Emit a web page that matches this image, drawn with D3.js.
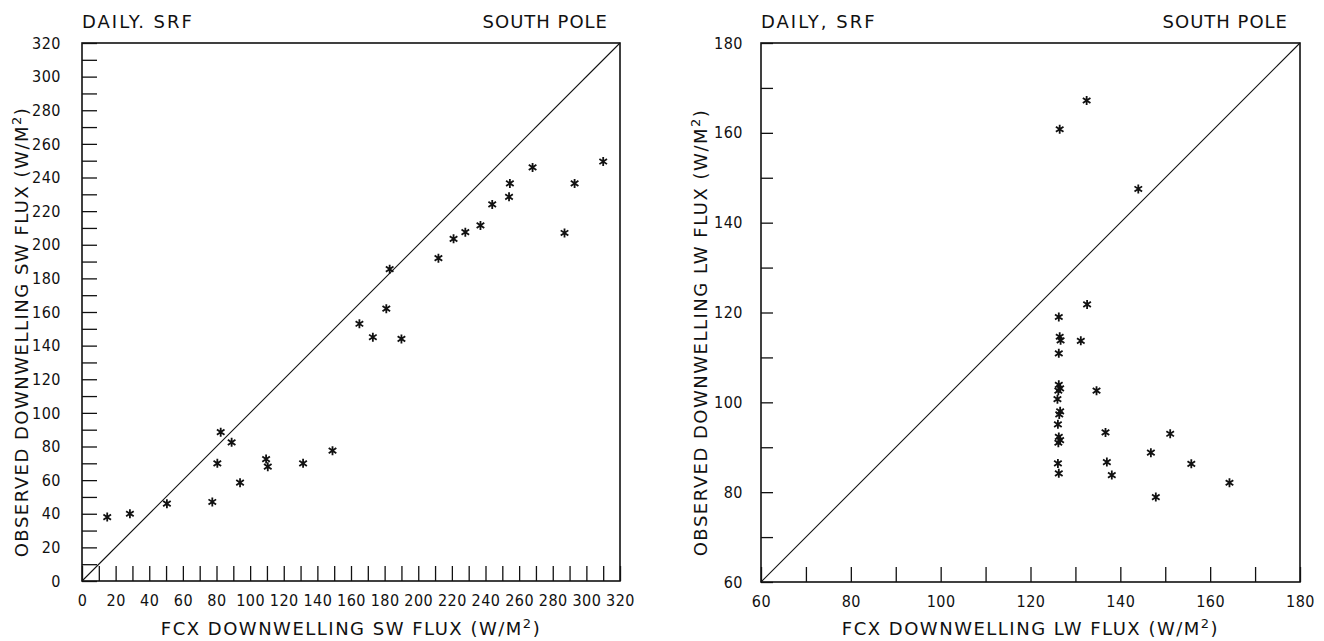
<!DOCTYPE html>
<html>
<head>
<meta charset="utf-8">
<script src="https://cdn.jsdelivr.net/npm/d3@7"></script>
<style>
  body { margin: 0; background: #fff; }
  svg { display: block; }
  text { font-family: "DejaVu Sans", sans-serif; fill: #111; }
  .tick text { font-family: "DejaVu Sans Condensed", "DejaVu Sans", sans-serif; }
  .domain { display: none; }
</style>
</head>
<body>
<div id="root"></div>
<script>
// shortwave panel (x = FCX, y = observed)
const swFcx = [15, 28.5, 50.5, 77.5, 80.5, 82.5, 89, 94, 109.5, 110.5, 131.5, 149, 165, 173, 181, 183, 190, 212, 221, 228, 237, 244, 254, 254.5, 268, 287, 293, 310];
const swObs = [38, 40, 46, 47, 70, 88.5, 82.5, 58.5, 72.5, 68, 70, 77.5, 153, 145, 162, 185.5, 144, 192, 203.5, 207.5, 211.5, 224, 228.5, 236.5, 246, 207, 236.5, 249.5];

// longwave panel
const lwFcx = [126.5, 132.5, 144, 132.6, 126.3, 126.5, 126.7, 131.2, 126.3, 126.3, 126.6, 126.2, 134.7, 126.0, 126.6, 126.4, 126.1, 126.3, 126.6, 126.2, 126.1, 126.3, 136.7, 151.1, 146.8, 137.0, 155.8, 138.1, 164.3, 147.9];
const lwObs = [160.8, 167.2, 147.5, 121.8, 119.0, 114.6, 113.8, 113.7, 110.9, 103.9, 103.1, 102.6, 102.6, 100.7, 98.0, 97.3, 95.1, 92.3, 91.6, 91.0, 86.4, 84.2, 93.3, 93.0, 88.8, 86.7, 86.3, 83.8, 82.1, 78.9];

const swTicks = d3.range(0, 321, 10);
const lwTicks = d3.range(60, 181, 10);

const W = 1324, H = 641;
const svg = d3.select("#root").append("svg")
	.attr("width", W)
	.attr("height", H);

const star = "M0,-4.5V4.5M-3.8,-2.6L3.8,2.6M-3.8,2.6L3.8,-2.6";

const drawPanel = (opts) => {
	const { left, right, top, bottom, domain, ticks, xs, ys, ytick, comma, xTitle, yTitle, yTitleX } = opts;

	const x = d3.scaleLinear().domain(domain).range([left, right]);
	const y = d3.scaleLinear().domain(domain).range([bottom, top]);
	const g = svg.append("g");
	const fmt = (d) => (d % 20 === 0 ? d : "");

	// frame
	g.append("rect")
		.attr("x", left).attr("y", top)
		.attr("width", right - left).attr("height", bottom - top)
		.attr("fill", "none").attr("stroke", "#111").attr("stroke-width", 1.6);

	const xAxis = d3.axisBottom(x).tickValues(ticks).tickFormat(fmt).tickSize(-15).tickPadding(25);
	const yAxis = d3.axisLeft(y).tickValues(ticks).tickFormat(fmt).tickSize(-ytick).tickPadding(ytick + 6);

	g.append("g")
		.attr("transform", "translate(0," + bottom + ")")
		.call(xAxis)
		.call(s => s.selectAll("line").attr("stroke", "#111").attr("stroke-width", 1.3))
		.call(s => s.selectAll("text").attr("font-size", 16).attr("dy", 0).attr("letter-spacing", 0.5));

	g.append("g")
		.attr("transform", "translate(" + left + ",0)")
		.call(yAxis)
		.call(s => s.selectAll("line").attr("stroke", "#111").attr("stroke-width", 1.3))
		.call(s => s.selectAll("text").attr("font-size", 16).attr("letter-spacing", 0.5));

	// 1:1 line
	g.append("line")
		.attr("x1", x(domain[0])).attr("y1", y(domain[0]))
		.attr("x2", x(domain[1])).attr("y2", y(domain[1]))
		.attr("stroke", "#111").attr("stroke-width", 1.1);

	g.selectAll("path.pt")
		.data(xs.map((d, i) => [d, ys[i]]))
		.enter()
		.append("path")
		.attr("class", "pt")
		.attr("d", star)
		.attr("transform", d => "translate(" + x(d[0]) + "," + y(d[1]) + ")")
		.attr("stroke", "#111")
		.attr("stroke-width", 1.8)
		.attr("fill", "none");

	// headers
	g.append("text")
		.attr("x", left).attr("y", 28)
		.attr("font-size", 18)
		.attr("letter-spacing", 2)
		.text(comma ? "DAILY, SRF" : "DAILY. SRF");
	g.append("text")
		.attr("x", right - 12).attr("y", 28)
		.attr("text-anchor", "end")
		.attr("font-size", 18)
		.attr("letter-spacing", 1)
		.text("SOUTH POLE");

	// axis titles
	const xt = g.append("text")
		.attr("x", (left + right) / 2).attr("y", 635)
		.attr("text-anchor", "middle")
		.attr("font-size", 18)
		.attr("letter-spacing", 1.5)
		.text(xTitle + " (W/M");
	xt.append("tspan").attr("dy", -7).attr("font-size", 13).text("2");
	xt.append("tspan").attr("dy", 7).text(")");

	const yt = g.append("text")
		.attr("transform", "translate(" + yTitleX + "," + ((top + bottom) / 2 + 20) + ") rotate(-90)")
		.attr("text-anchor", "middle")
		.attr("font-size", 18)
		.attr("letter-spacing", 1.5)
		.text(yTitle + " (W/M");
	yt.append("tspan").attr("dy", -7).attr("font-size", 13).text("2");
	yt.append("tspan").attr("dy", 7).text(")");
};

drawPanel({
	left: 82, right: 620, top: 43, bottom: 581,
	domain: [0, 320], ticks: swTicks, xs: swFcx, ys: swObs, ytick: 15, comma: false,
	xTitle: "FCX DOWNWELLING SW FLUX",
	yTitle: "OBSERVED DOWNWELLING SW FLUX",
	yTitleX: 28
});

drawPanel({
	left: 761, right: 1300, top: 43, bottom: 582,
	domain: [60, 180], ticks: lwTicks, xs: lwFcx, ys: lwObs, ytick: 12, comma: true,
	xTitle: "FCX DOWNWELLING LW FLUX",
	yTitle: "OBSERVED DOWNWELLING LW FLUX",
	yTitleX: 707
});
</script>
</body>
</html>
